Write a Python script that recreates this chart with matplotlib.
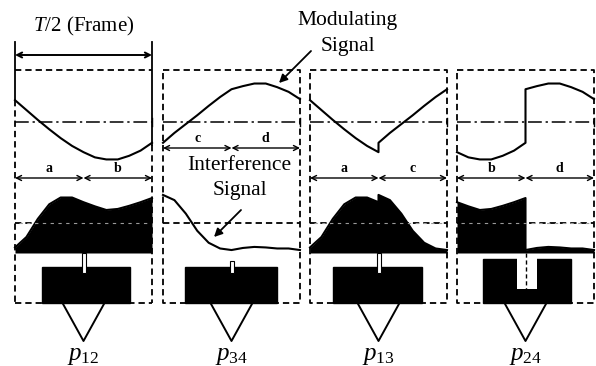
import numpy as np
import matplotlib
matplotlib.use("Agg")
import matplotlib.pyplot as plt
from matplotlib.patches import Rectangle

plt.rcParams["font.family"] = ["Liberation Serif", "DejaVu Serif"]
plt.rcParams["mathtext.fontset"] = "custom"
plt.rcParams["mathtext.rm"] = "Liberation Serif"
plt.rcParams["mathtext.it"] = "Liberation Serif:italic"

# ===== data: half-frame samples (7 per half) =====
# amplitude units: dash-dot line = 0, top of frame = 1
mod_a = [0.42, 0.23, 0.04, -0.14, -0.31, -0.46, -0.58]
mod_b = [-0.58, -0.68, -0.72, -0.72, -0.65, -0.55, -0.40]
mod_c = [-0.40, -0.21, -0.04, 0.13, 0.31, 0.48, 0.63]
mod_d = [0.63, 0.69, 0.74, 0.74, 0.67, 0.58, 0.44]

intf_a = [-0.47, -0.27, 0.08, 0.36, 0.49, 0.49, 0.40]
intf_b = [0.40, 0.32, 0.25, 0.27, 0.33, 0.40, 0.48]
intf_c = [0.54, 0.44, 0.18, -0.15, -0.38, -0.49, -0.52]
intf_d = [-0.52, -0.48, -0.46, -0.47, -0.49, -0.49, -0.52]

panel_halves = [("a", "b"), ("c", "d"), ("a", "c"), ("b", "d")]
panel_names = ["12", "34", "13", "24"]
panel_filled = [True, False, True, True]
block_start = [0.20, 0.16, 0.17, 0.19]   # fraction of frame
block_end = [0.84, 0.83, 0.82, 0.83]

MOD = {"a": mod_a, "b": mod_b, "c": mod_c, "d": mod_d}
INTF = {"a": intf_a, "b": intf_b, "c": intf_c, "d": intf_d}

# ===== layout (pixels) =====
PANEL_X = [15, 163, 310, 457]
PANEL_W = 137
TOP, BOTTOM = 70, 303
MOD_BASE, INT_BASE, FLOOR = 122, 223, 253
UNIT = 52
DIM_Y = [178, 148, 178, 178]

fig = plt.figure(figsize=(5.96, 3.66), dpi=100)
ax = fig.add_axes([0, 0, 1, 1])
ax.set_xlim(0, 596)
ax.set_ylim(366, 0)
ax.axis("off")

LW = 1.3
DASH = dict(color="black", lw=LW, dashes=(3.5, 2.2))
t_half = np.linspace(0, 0.5, 7)
t_full = np.concatenate([t_half, 0.5 + t_half])


def darrow(x0, x1, y, lw=1.0):
    ax.annotate("", xy=(x0, y), xytext=(x1, y),
                arrowprops=dict(arrowstyle="<->", lw=lw, color="black",
                                shrinkA=0, shrinkB=0, mutation_scale=9))


for i, (h1, h2) in enumerate(panel_halves):
    x0 = PANEL_X[i]
    x1 = x0 + PANEL_W
    xm = x0 + PANEL_W / 2
    xs = x0 + t_full * PANEL_W

    # frame borders
    if i == 0:
        ax.plot([x0, x1], [TOP, TOP], **DASH)
        ax.plot([x0, x1], [BOTTOM, BOTTOM], **DASH)
        ax.plot([x0, x0], [100, BOTTOM], **DASH)
        ax.plot([x1, x1], [145, BOTTOM], **DASH)
        ax.plot([x0, x0], [42, 100], color="black", lw=LW)
        ax.plot([x1, x1], [42, 145], color="black", lw=LW)
    else:
        ax.plot([x0, x1, x1, x0, x0], [TOP, TOP, BOTTOM, BOTTOM, TOP], **DASH)

    # dash-dot reference line
    ax.plot([x0, x1], [MOD_BASE, MOD_BASE], color="black", lw=1.1,
            dashes=(9, 2.5, 1.5, 2.5))
    ax.plot([x1, x1], [MOD_BASE - 4, MOD_BASE + 4], color="black", lw=1.0)

    # modulating signal
    my = MOD_BASE - np.array(MOD[h1] + MOD[h2]) * UNIT
    ax.plot(xs, my, color="black", lw=1.5, solid_joinstyle="round")

    # dimension arrows
    dy = DIM_Y[i]
    darrow(x0, xm, dy)
    darrow(xm, x1, dy)
    ax.text(x0 + PANEL_W / 4, dy - 3, h1, ha="center", va="bottom",
            fontsize=10, fontweight="bold")
    ax.text(x0 + 3 * PANEL_W / 4, dy - 3, h2, ha="center", va="bottom",
            fontsize=10, fontweight="bold")

    # interference signal
    ax.plot([x0, x1], [INT_BASE, INT_BASE], **DASH)
    iy = INT_BASE - np.array(INTF[h1] + INTF[h2]) * UNIT
    if panel_filled[i]:
        ax.fill_between(xs, iy, FLOOR, color="black", lw=0, zorder=3)
        ax.plot(xs, iy, color="black", lw=1.5, zorder=3)
        ax.plot([x0 + 4, x1 - 4], [INT_BASE, INT_BASE], color="#9a9a9a",
                lw=0.8, dashes=(3, 4), zorder=4)
    else:
        ax.plot(xs, iy, color="black", lw=1.5)

    # detector block
    bx0 = x0 + block_start[i] * PANEL_W
    bx1 = x0 + block_end[i] * PANEL_W
    btop = 259 if i == 3 else 267
    ax.add_patch(Rectangle((bx0, btop), bx1 - bx0, BOTTOM - btop,
                           facecolor="black", edgecolor="black", zorder=3))
    if i == 3:
        ax.add_patch(Rectangle((x0 + 0.438 * PANEL_W, btop - 1),
                               0.146 * PANEL_W, 31, facecolor="white",
                               edgecolor="none", zorder=4))
        ax.plot([xm, xm], [FLOOR, BOTTOM], color="black", lw=1.0,
                dashes=(3, 2), zorder=5)
    else:
        top_slit = FLOOR if i != 1 else 261
        ax.add_patch(Rectangle((xm - 2, top_slit), 4, btop + 6 - top_slit,
                               facecolor="white", edgecolor="black",
                               lw=0.8, zorder=4))

    # pointer and label
    ax.plot([xm - 21, xm, xm + 21], [BOTTOM, 341, BOTTOM], color="black",
            lw=1.4, zorder=5)
    ax.text(xm, 356, r"$p_{\mathrm{%s}}$" % panel_names[i], ha="center",
            va="center", fontsize=18)

# frame annotation
darrow(PANEL_X[0], PANEL_X[0] + PANEL_W, 55, lw=1.4)
ax.text(PANEL_X[0] + PANEL_W / 2, 26, r"$T$/2 (Frame)", ha="center",
        va="center", fontsize=15)

# signal callouts
ax.text(347, 20, "Modulating", ha="center", va="center", fontsize=15.5)
ax.text(348, 46, "Signal", ha="center", va="center", fontsize=15.5)
ax.annotate("", xy=(279, 83), xytext=(311, 51),
            arrowprops=dict(arrowstyle="-|>", lw=1.3, color="black",
                            shrinkA=0, shrinkB=0, mutation_scale=12))

ax.text(239, 166, "Interference", ha="center", va="center", fontsize=15.5)
ax.text(240, 191, "Signal", ha="center", va="center", fontsize=15.5)
ax.annotate("", xy=(214, 237), xytext=(241, 210),
            arrowprops=dict(arrowstyle="-|>", lw=1.3, color="black",
                            shrinkA=0, shrinkB=0, mutation_scale=12))

fig.savefig("out.png", dpi=100, facecolor="white")
